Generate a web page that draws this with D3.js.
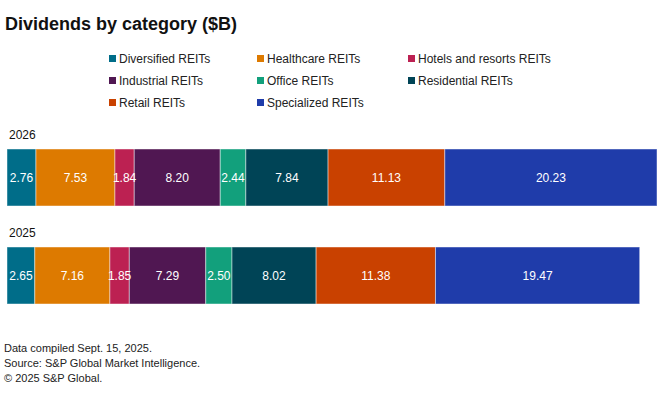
<!DOCTYPE html>
<html>
<head>
<meta charset="utf-8">
<script src="https://cdn.jsdelivr.net/npm/d3@7"></script>
<style>
  body { margin: 0; background: #fff; }
  text { font-family: "Liberation Sans", Arial, sans-serif; }
</style>
</head>
<body>
<div id="chart"></div>
<script>
const svgWidth = 660;
const svgHeight = 396;

// data
const categories = ["Diversified REITs", "Healthcare REITs", "Hotels and resorts REITs",
  "Industrial REITs", "Office REITs", "Residential REITs", "Retail REITs", "Specialized REITs"];
const years = ["2026", "2025"];
const values2026 = [2.76, 7.53, 1.84, 8.20, 2.44, 7.84, 11.13, 20.23];
const values2025 = [2.65, 7.16, 1.85, 7.29, 2.50, 8.02, 11.38, 19.47];
const colors = ["#006d89", "#dd7a00", "#bc2152", "#501752", "#12a07c", "#004456", "#c94100", "#1f3caa"];
const footnotes = ["Data compiled Sept. 15, 2025.", "Source: S&P Global Market Intelligence.", "\u00a9 2025 S&P Global."];

const rows = [
  { year: years[0], values: values2026 },
  { year: years[1], values: values2025 }
];

const svg = d3.select("#chart")
  .append("svg")
  .attr("width", svgWidth)
  .attr("height", svgHeight);

// title
svg.append("text")
  .attr("x", 5)
  .attr("y", 30)
  .style("font-size", "18px")
  .style("font-weight", "600")
  .style("fill", "#111")
  .text("Dividends by category ($B)");

// legend, 3 columns
const legendX = [109, 257, 408];
const legendY = [59, 81, 103];
const legend = svg.append("g");
categories.forEach((c, i) => {
  const g = legend.append("g")
    .attr("transform", `translate(${legendX[i % 3]}, ${legendY[Math.floor(i / 3)]})`);
  g.append("rect")
    .attr("x", 0).attr("y", -4)
    .attr("width", 7).attr("height", 7)
    .attr("fill", colors[i]);
  g.append("text")
    .attr("x", 10)
    .attr("y", 0)
    .attr("dy", "0.35em")
    .style("font-size", "12px")
    .style("fill", "#222")
    .text(c);
});

// scales
const maxTotal = d3.max(rows, r => d3.sum(r.values));
const x = d3.scaleLinear().domain([0, maxTotal]).range([7, 657]);
const y = d3.scaleBand().domain(years).range([149, 304]).paddingInner(41 / 98).paddingOuter(0);

const rowGroups = svg.selectAll(".row")
  .data(rows)
  .enter()
  .append("g")
  .attr("class", "row");

rowGroups.append("text")
  .attr("x", 9)
  .attr("y", d => y(d.year) - 10)
  .style("font-size", "12px")
  .style("fill", "#111")
  .text(d => d.year);

rowGroups.each(function(r) {
  const g = d3.select(this);
  let acc = 0;
  const segs = r.values.map((v, i) => {
    const s = { v: v, start: acc, end: acc + v, color: colors[i] };
    acc += v;
    return s;
  });

  g.selectAll("rect")
    .data(segs)
    .enter()
    .append("rect")
    .attr("x", d => x(d.start))
    .attr("y", y(r.year))
    .attr("width", d => x(d.end) - x(d.start))
    .attr("height", y.bandwidth())
    .attr("fill", d => d.color)
    .attr("stroke", "rgba(255,255,255,0.45)")
    .attr("stroke-width", 1);

  g.selectAll(".lbl")
    .data(segs)
    .enter()
    .append("text")
    .attr("class", "lbl")
    .attr("x", d => (x(d.start) + x(d.end)) / 2)
    .attr("y", y(r.year) + y.bandwidth() / 2)
    .attr("dy", "0.35em")
    .style("text-anchor", "middle")
    .style("font-size", "12px")
    .style("fill", "#fff")
    .text(d => d.v.toFixed(2));
});

// footnotes
svg.selectAll(".foot")
  .data(footnotes)
  .enter()
  .append("text")
  .attr("class", "foot")
  .attr("x", 4)
  .attr("y", (d, i) => 352 + i * 15)
  .style("font-size", "11px")
  .style("fill", "#222")
  .text(d => d);
</script>
</body>
</html>
